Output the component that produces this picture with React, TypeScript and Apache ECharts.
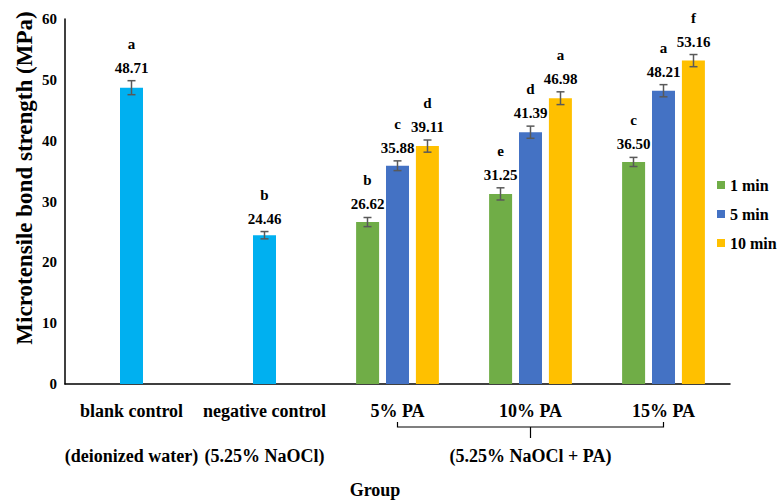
import React, { useEffect, useRef } from "react";
import * as echarts from "echarts";

const categories = ["blank control", "negative control", "5% PA", "10% PA", "15% PA"];
const subLabels = ["(deionized water)", "(5.25% NaOCl)", "", "", ""];
const groupNote = "(5.25% NaOCl + PA)";
const yTicks = [0, 60, 10];

const controlValues = [48.71, 24.46, null, null, null];
const controlErr = [1.15, 0.6, null, null, null];
const controlLetters = ["a", "b", "", "", ""];

const min1Values = [null, null, 26.62, 31.25, 36.5];
const min1Err = [null, null, 0.75, 1.0, 0.75];
const min1Letters = ["", "", "b", "e", "c"];

const min5Values = [null, null, 35.88, 41.39, 48.21];
const min5Err = [null, null, 0.8, 1.0, 1.0];
const min5Letters = ["", "", "c", "d", "a"];

const min10Values = [null, null, 39.11, 46.98, 53.16];
const min10Err = [null, null, 1.0, 1.05, 1.0];
const min10Letters = ["", "", "d", "a", "f"];

const FONT = "Liberation Serif";

function errSeries(name: string, values: (number | null)[], errs: (number | null)[], letters: string[], offset: number) {
  const data: number[][] = [];
  const lets: string[] = [];
  values.forEach((v, i) => {
    if (v != null) {
      data.push([i, v, errs[i] as number]);
      lets.push(letters[i]);
    }
  });
  const txt = (text: string, x: number, y: number) => ({
    type: "text",
    style: {
      text,
      x,
      y,
      align: "center",
      verticalAlign: "middle",
      fill: "#000",
      fontFamily: FONT,
      fontWeight: "bold",
      fontSize: 15,
    },
  });
  return {
    type: "custom",
    name,
    coordinateSystem: "cartesian2d",
    z: 5,
    clip: false,
    encode: { x: 0, y: 1 },
    data,
    renderItem: (params: any, api: any) => {
      const x = api.value(0);
      const v = api.value(1);
      const e = api.value(2);
      const top = api.coord([x, v + e]);
      const bot = api.coord([x, v - e]);
      const cx = top[0] + offset;
      const stroke = "#595959";
      return {
        type: "group",
        children: [
          { type: "line", shape: { x1: cx, y1: top[1], x2: cx, y2: bot[1] }, style: { stroke, lineWidth: 1.5 } },
          { type: "line", shape: { x1: cx - 4, y1: top[1], x2: cx + 4, y2: top[1] }, style: { stroke, lineWidth: 1.5 } },
          { type: "line", shape: { x1: cx - 4, y1: bot[1], x2: cx + 4, y2: bot[1] }, style: { stroke, lineWidth: 1.5 } },
          txt(v.toFixed(2), cx, top[1] - 13),
          txt(lets[params.dataIndex], cx, top[1] - 37),
        ],
      };
    },
  };
}

export default function App() {
  const ref = useRef<HTMLDivElement>(null);
  useEffect(() => {
    if (!ref.current) return;
    const chart = echarts.init(ref.current, undefined, { renderer: "svg" });
    const toData = (arr: (number | null)[]) => arr.map((v) => (v == null ? "-" : v));
    const barCommon = { type: "bar", barWidth: 23, barGap: "30%" };
    const textBase = { fill: "#000", fontFamily: FONT, fontWeight: "bold", align: "center", verticalAlign: "middle" };
    chart.setOption({
      animation: false,
      backgroundColor: "#fff",
      textStyle: { fontFamily: FONT },
      grid: { left: 65, right: 51, top: 19, bottom: 118, containLabel: false },
      legend: {
        data: ["1 min", "5 min", "10 min"],
        orient: "vertical",
        left: 712,
        top: 172,
        itemWidth: 8,
        itemHeight: 8,
        itemGap: 13,
        icon: "rect",
        textStyle: { fontFamily: FONT, fontWeight: "bold", fontSize: 16, color: "#000" },
      },
      xAxis: {
        type: "category",
        data: categories.map((c, i) => (subLabels[i] ? `${c}\n${subLabels[i]}` : c)),
        axisTick: { show: false },
        axisLine: { lineStyle: { color: "#000", width: 1.5 } },
        axisLabel: {
          interval: 0,
          margin: 4,
          lineHeight: 45,
          color: "#000",
          fontFamily: FONT,
          fontWeight: "bold",
          fontSize: 18,
        },
      },
      yAxis: {
        type: "value",
        min: yTicks[0],
        max: yTicks[1],
        interval: yTicks[2],
        axisLine: { show: true, lineStyle: { color: "#000", width: 1.5 } },
        axisTick: { show: false },
        splitLine: { show: false },
        axisLabel: { color: "#000", fontFamily: FONT, fontWeight: "bold", fontSize: 15, margin: 8 },
      },
      series: [
        { ...barCommon, name: "1 min", data: toData(min1Values), itemStyle: { color: "#70AD47" } },
        { ...barCommon, name: "control", stack: "mid", data: toData(controlValues), itemStyle: { color: "#00B0F0" } },
        { ...barCommon, name: "5 min", stack: "mid", data: toData(min5Values), itemStyle: { color: "#4472C4" } },
        { ...barCommon, name: "10 min", data: toData(min10Values), itemStyle: { color: "#FFC000" } },
        errSeries("err control", controlValues, controlErr, controlLetters, 0),
        errSeries("err 1 min", min1Values, min1Err, min1Letters, -30),
        errSeries("err 5 min", min5Values, min5Err, min5Letters, 0),
        errSeries("err 10 min", min10Values, min10Err, min10Letters, 30),
      ],
    });
    const xL = chart.convertToPixel({ xAxisIndex: 0 }, 2) as number;
    const xM = chart.convertToPixel({ xAxisIndex: 0 }, 3) as number;
    const xR = chart.convertToPixel({ xAxisIndex: 0 }, 4) as number;
    const y0 = chart.convertToPixel({ yAxisIndex: 0 }, 0) as number;
    chart.setOption({
      graphic: [
        {
          type: "polyline",
          shape: { points: [[xL, y0 + 38], [xL, y0 + 43], [xR, y0 + 43], [xR, y0 + 38]] },
          style: { stroke: "#000", lineWidth: 1.2, fill: null },
        },
        {
          type: "line",
          shape: { x1: xM, y1: y0 + 43, x2: xM, y2: y0 + 54 },
          style: { stroke: "#000", lineWidth: 1.2 },
        },
        {
          type: "text",
          x: xM,
          y: y0 + 72,
          style: { ...textBase, text: groupNote, fontSize: 18 },
        },
        {
          type: "text",
          x: 375,
          y: 490,
          style: { ...textBase, text: "Group", fontSize: 18 },
        },
        {
          type: "text",
          x: 24,
          y: 178,
          rotation: Math.PI / 2,
          style: { ...textBase, text: "Microtensile bond strength (MPa)", fontSize: 23 },
        },
      ],
    });
    return () => chart.dispose();
  }, []);
  return <div ref={ref} style={{ position: "fixed", left: 0, top: 0, width: 781, height: 502 }} />;
}
